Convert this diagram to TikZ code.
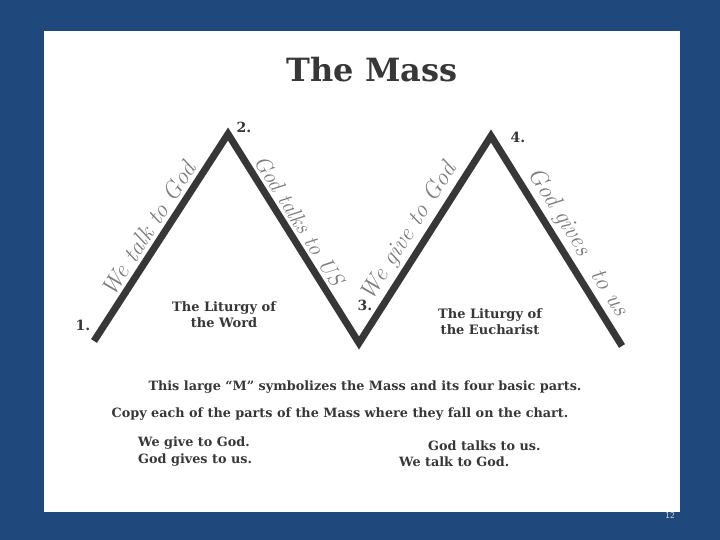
\documentclass[tikz,border=0pt]{standalone}
\usepackage{fontspec}
\newfontfamily\slab{DejaVu Serif}
\usetikzlibrary{positioning}
\definecolor{slideblue}{RGB}{31,73,125}
\definecolor{ink}{RGB}{55,55,55}
\definecolor{pencil}{RGB}{125,125,125}

\begin{document}
\begin{tikzpicture}[x=1pt, y=-1pt,
    mline/.style={line width=7pt, ink, line join=miter},
    num/.style={font=\slab\bfseries\fontsize{14}{14}\selectfont, ink, inner sep=1pt},
    part/.style={font=\slab\bfseries\fontsize{13}{16}\selectfont, ink, align=center},
    hand/.style={font=\itshape\fontsize{24}{24}\selectfont, pencil, inner sep=0pt},
    note/.style={font=\slab\bfseries\fontsize{12.8}{14}\selectfont, ink, inner sep=0pt},
]
    % slide and sheet
    \useasboundingbox (0,0) rectangle (720,540);
    \fill[slideblue] (0,0) rectangle (720,540);
    \fill[white] (44,31) rectangle (680,512);

    \node[font=\slab\bfseries\fontsize{32}{32}\selectfont, ink] (title) at (372,70) {The Mass};

    % the big M
    \coordinate (p1) at (94,341);
    \coordinate (p2) at (228,134);
    \coordinate (p3) at (359,343);
    \coordinate (p4) at (491,136);
    \coordinate (p5) at (622,346);
    \draw[mline] (p1)
        -- node[hand, sloped, above=3pt, pos=0.50] {We talk to God} (p2)
        -- node[hand, sloped, above=3pt, pos=0.45, font=\itshape\fontsize{22}{22}\selectfont] {God talks to US} (p3)
        -- node[hand, sloped, above=3pt, pos=0.49] {We give to God} (p4)
        -- node[hand, sloped, above=3pt, pos=0.55] {God gives \enspace to us} (p5);

    % numbers
    \node[num] (n1) at (83,325) {1.};
    \node[num] (n2) at (244,127) {2.};
    \node[num] (n3) at (365,305) {3.};
    \node[num] (n4) at (518,137) {4.};

    \node[part] (word) at (224,315) {The Liturgy of\\the Word};
    \node[part] (eucharist) at (490,322) {The Liturgy of\\the Eucharist};

    % instructions
    \node[note] (symbol) at (365,387)
        {This large “M” symbolizes the Mass and its four basic parts.};
    \node[note] (copy) at (340,414)
        {Copy each of the parts of the Mass where they fall on the chart.};
    \node[note, anchor=west] (give) at (138,443) {We give to God.};
    \node[note, anchor=west] (gives) at (138,460) {God gives to us.};
    \node[note, anchor=west] (talks) at (428,446) {God talks to us.};
    \node[note, anchor=west] (talk) at (399,462) {We talk to God.};

    \node[font=\sffamily\fontsize{9}{9}\selectfont, white!80!slideblue] (page) at (670,515) {12};
\end{tikzpicture}
\end{document}
